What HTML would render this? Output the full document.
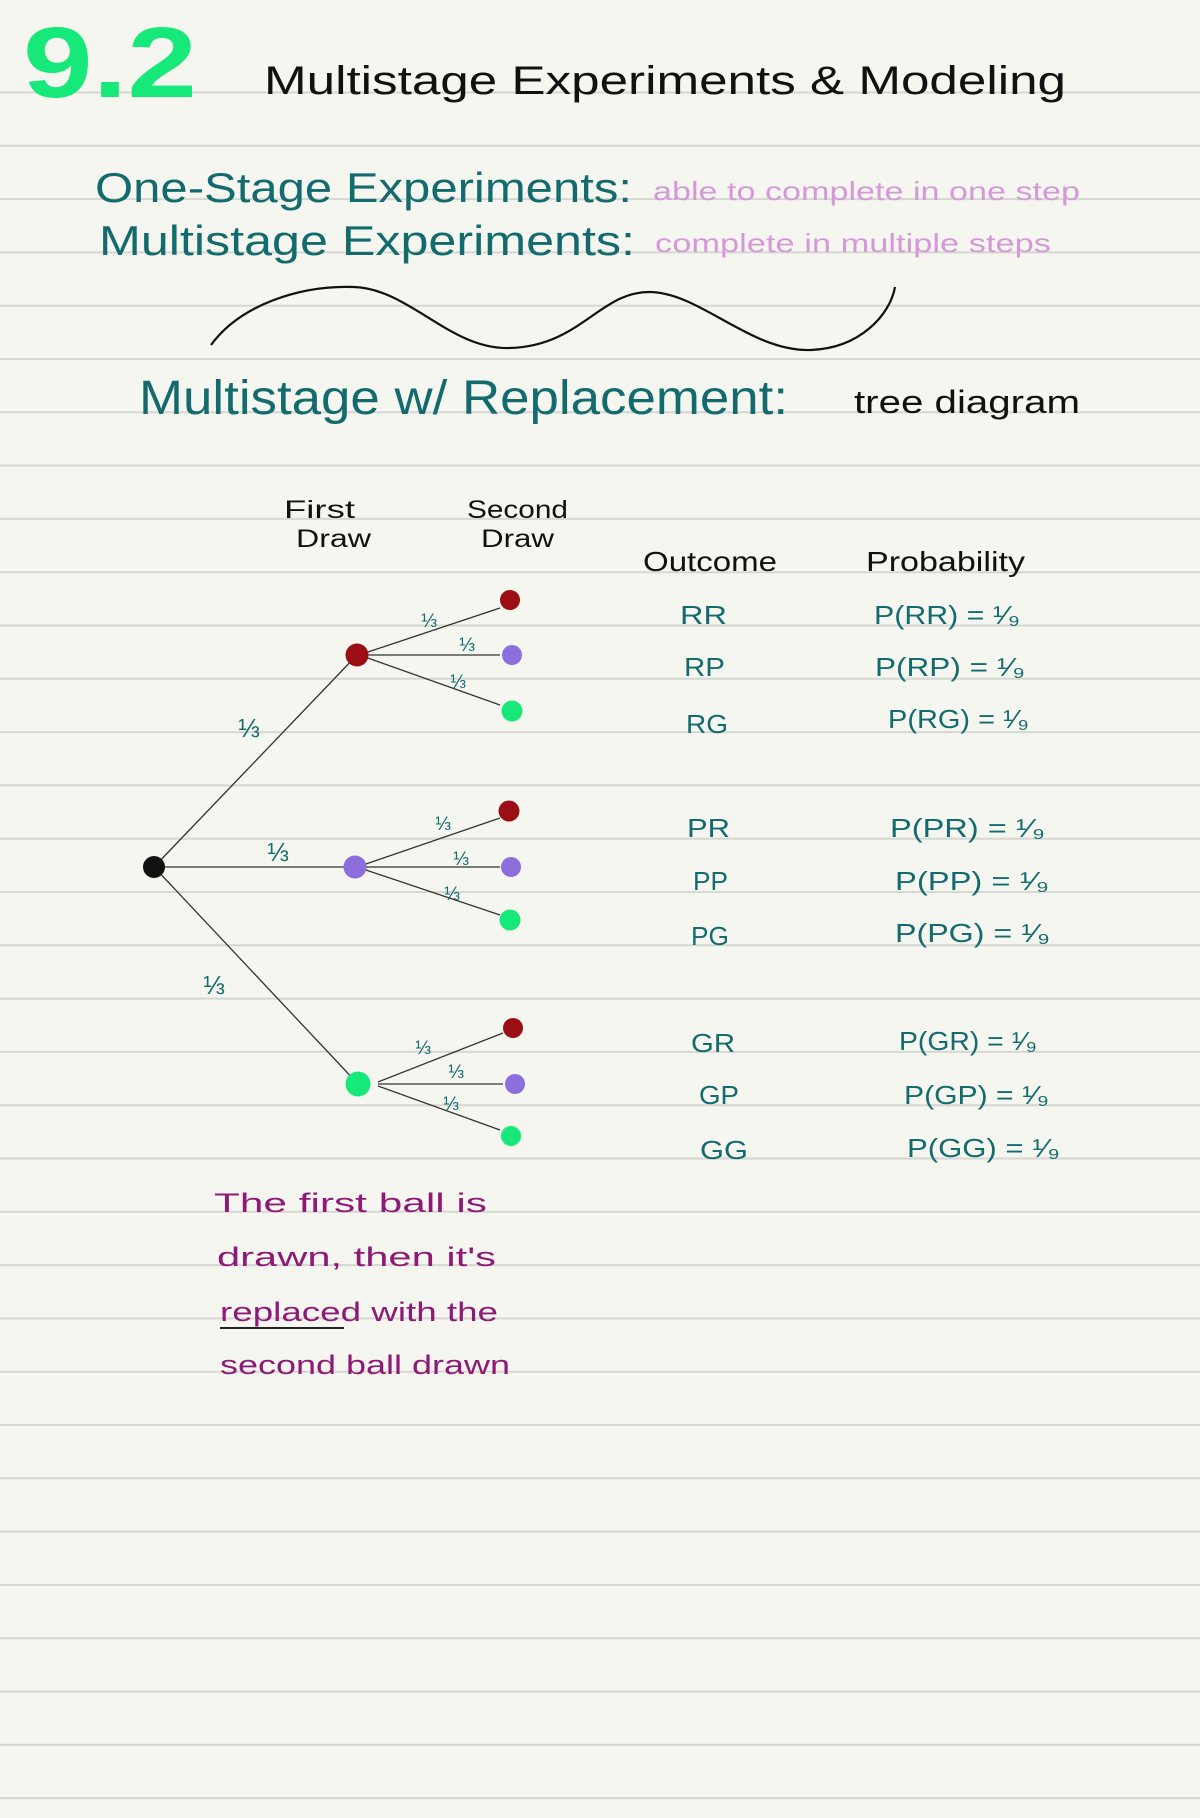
<!DOCTYPE html>
<html><head><meta charset="utf-8"><style>
html,body{margin:0;padding:0;background:#f6f6f0;}
svg{display:block}
text{font-family:"Liberation Sans","DejaVu Sans",sans-serif;}
</style></head><body>
<svg width="1200" height="1818" viewBox="0 0 1200 1818" xmlns="http://www.w3.org/2000/svg">
<rect width="1200" height="1818" fill="#f6f6f0"/>
<g stroke="#d6d6d2" stroke-width="2">
<line x1="0" x2="1200" y1="92.5" y2="92.5"/><line x1="0" x2="1200" y1="145.8" y2="145.8"/><line x1="0" x2="1200" y1="199.1" y2="199.1"/><line x1="0" x2="1200" y1="252.4" y2="252.4"/><line x1="0" x2="1200" y1="305.7" y2="305.7"/><line x1="0" x2="1200" y1="359" y2="359"/><line x1="0" x2="1200" y1="412.3" y2="412.3"/><line x1="0" x2="1200" y1="465.6" y2="465.6"/><line x1="0" x2="1200" y1="518.9" y2="518.9"/><line x1="0" x2="1200" y1="572.2" y2="572.2"/><line x1="0" x2="1200" y1="625.5" y2="625.5"/><line x1="0" x2="1200" y1="678.8" y2="678.8"/><line x1="0" x2="1200" y1="732.1" y2="732.1"/><line x1="0" x2="1200" y1="785.4" y2="785.4"/><line x1="0" x2="1200" y1="838.7" y2="838.7"/><line x1="0" x2="1200" y1="892" y2="892"/><line x1="0" x2="1200" y1="945.3" y2="945.3"/><line x1="0" x2="1200" y1="998.6" y2="998.6"/><line x1="0" x2="1200" y1="1051.9" y2="1051.9"/><line x1="0" x2="1200" y1="1105.2" y2="1105.2"/><line x1="0" x2="1200" y1="1158.5" y2="1158.5"/><line x1="0" x2="1200" y1="1211.8" y2="1211.8"/><line x1="0" x2="1200" y1="1265.1" y2="1265.1"/><line x1="0" x2="1200" y1="1318.4" y2="1318.4"/><line x1="0" x2="1200" y1="1371.7" y2="1371.7"/><line x1="0" x2="1200" y1="1425" y2="1425"/><line x1="0" x2="1200" y1="1478.3" y2="1478.3"/><line x1="0" x2="1200" y1="1531.6" y2="1531.6"/><line x1="0" x2="1200" y1="1584.9" y2="1584.9"/><line x1="0" x2="1200" y1="1638.2" y2="1638.2"/><line x1="0" x2="1200" y1="1691.5" y2="1691.5"/><line x1="0" x2="1200" y1="1744.8" y2="1744.8"/><line x1="0" x2="1200" y1="1798.1" y2="1798.1"/>
</g>
<text x="23" y="97" font-size="100" font-weight="bold" fill="#17e87a" textLength="174" lengthAdjust="spacingAndGlyphs">9.2</text>
<text x="264" y="94" font-size="40" fill="#111" textLength="802" lengthAdjust="spacingAndGlyphs">Multistage Experiments &amp; Modeling</text>
<g fill="#136b6e">
<text x="95" y="202" font-size="42" textLength="537" lengthAdjust="spacingAndGlyphs">One-Stage Experiments:</text>
<text x="99" y="255" font-size="42" textLength="536" lengthAdjust="spacingAndGlyphs">Multistage Experiments:</text>
<text x="139" y="414" font-size="48" textLength="649" lengthAdjust="spacingAndGlyphs">Multistage w/ Replacement:</text>
</g>
<g fill="#d49ad8" font-size="26">
<text x="653" y="200" textLength="427" lengthAdjust="spacingAndGlyphs">able to complete in one step</text>
<text x="655" y="252" textLength="396" lengthAdjust="spacingAndGlyphs">complete in multiple steps</text>
</g>
<text x="854" y="413" font-size="32" fill="#111" textLength="226" lengthAdjust="spacingAndGlyphs">tree diagram</text>
<path d="M211,345 C240,305 300,285 354,287 C410,289 450,350 510,348 C580,346 600,292 649,292 C700,292 750,352 811,350 C860,348 890,315 895,287" fill="none" stroke="#111" stroke-width="2.2"/>
<g fill="#111" font-size="25">
<text x="284" y="518" textLength="71" lengthAdjust="spacingAndGlyphs">First</text>
<text x="296" y="547" textLength="75" lengthAdjust="spacingAndGlyphs">Draw</text>
<text x="467" y="518" textLength="101" lengthAdjust="spacingAndGlyphs">Second</text>
<text x="481" y="547" textLength="73" lengthAdjust="spacingAndGlyphs">Draw</text>
<text x="643" y="571" font-size="28" textLength="134" lengthAdjust="spacingAndGlyphs">Outcome</text>
<text x="866" y="571" font-size="28" textLength="159" lengthAdjust="spacingAndGlyphs">Probability</text>
</g>
<g stroke="#333" stroke-width="1.3">
<line x1="154" y1="867" x2="357" y2="655"/><line x1="154" y1="867" x2="355" y2="867"/><line x1="154" y1="867" x2="358" y2="1084"/>
<line x1="365" y1="653" x2="500" y2="608"/><line x1="365" y1="655" x2="500" y2="655"/><line x1="365" y1="657" x2="500" y2="705"/>
<line x1="363" y1="865" x2="500" y2="818"/><line x1="363" y1="867" x2="500" y2="867"/><line x1="363" y1="869" x2="500" y2="915"/>
<line x1="378" y1="1082" x2="503" y2="1033"/><line x1="378" y1="1084" x2="503" y2="1084"/><line x1="378" y1="1086" x2="500" y2="1130"/>
</g>
<circle cx="154" cy="867" r="11" fill="#111"/>
<circle cx="357" cy="655" r="11.5" fill="#9b0f14"/>
<circle cx="355" cy="867" r="11.5" fill="#8c6fdc"/>
<circle cx="358" cy="1084" r="12.5" fill="#17e87a"/>
<circle cx="510" cy="600" r="10" fill="#9b0f14"/>
<circle cx="512" cy="655" r="10" fill="#8c6fdc"/>
<circle cx="512" cy="711" r="10.5" fill="#17e87a"/>
<circle cx="509" cy="811" r="10.5" fill="#9b0f14"/>
<circle cx="511" cy="867" r="10" fill="#8c6fdc"/>
<circle cx="510" cy="920" r="10.5" fill="#17e87a"/>
<circle cx="513" cy="1028" r="10" fill="#9b0f14"/>
<circle cx="515" cy="1084" r="10" fill="#8c6fdc"/>
<circle cx="511" cy="1136" r="10" fill="#17e87a"/>
<g fill="#136b6e" font-size="26" text-anchor="middle">
<text x="249" y="737">⅓</text><text x="278" y="861">⅓</text><text x="214" y="994">⅓</text>
<g font-size="19"><text x="429" y="627">⅓</text><text x="467" y="651">⅓</text><text x="458" y="688">⅓</text>
<text x="443" y="830">⅓</text><text x="461" y="865">⅓</text><text x="452" y="900">⅓</text>
<text x="423" y="1054">⅓</text><text x="456" y="1078">⅓</text><text x="451" y="1110">⅓</text></g>
</g>
<g fill="#136b6e" font-size="26">
<text x="680" y="624" textLength="47" lengthAdjust="spacingAndGlyphs">RR</text>
<text x="684" y="676" textLength="41" lengthAdjust="spacingAndGlyphs">RP</text>
<text x="686" y="733" textLength="42" lengthAdjust="spacingAndGlyphs">RG</text>
<text x="687" y="837" textLength="43" lengthAdjust="spacingAndGlyphs">PR</text>
<text x="693" y="890" textLength="35" lengthAdjust="spacingAndGlyphs">PP</text>
<text x="691" y="945" textLength="38" lengthAdjust="spacingAndGlyphs">PG</text>
<text x="691" y="1052" textLength="44" lengthAdjust="spacingAndGlyphs">GR</text>
<text x="699" y="1104" textLength="40" lengthAdjust="spacingAndGlyphs">GP</text>
<text x="700" y="1159" textLength="48" lengthAdjust="spacingAndGlyphs">GG</text>
<text x="874" y="624" textLength="146" lengthAdjust="spacingAndGlyphs">P(RR) = ¹⁄₉</text>
<text x="875" y="676" textLength="150" lengthAdjust="spacingAndGlyphs">P(RP) = ¹⁄₉</text>
<text x="888" y="728" textLength="141" lengthAdjust="spacingAndGlyphs">P(RG) = ¹⁄₉</text>
<text x="890" y="837" textLength="155" lengthAdjust="spacingAndGlyphs">P(PR) = ¹⁄₉</text>
<text x="895" y="890" textLength="154" lengthAdjust="spacingAndGlyphs">P(PP) = ¹⁄₉</text>
<text x="895" y="942" textLength="155" lengthAdjust="spacingAndGlyphs">P(PG) = ¹⁄₉</text>
<text x="899" y="1050" textLength="138" lengthAdjust="spacingAndGlyphs">P(GR) = ¹⁄₉</text>
<text x="904" y="1104" textLength="145" lengthAdjust="spacingAndGlyphs">P(GP) = ¹⁄₉</text>
<text x="907" y="1157" textLength="153" lengthAdjust="spacingAndGlyphs">P(GG) = ¹⁄₉</text>
</g>
<g fill="#8e1a78" font-size="27">
<text x="214" y="1212" textLength="273" lengthAdjust="spacingAndGlyphs">The first ball is</text>
<text x="217" y="1266" textLength="279" lengthAdjust="spacingAndGlyphs">drawn, then it's</text>
<text x="220" y="1321" textLength="278" lengthAdjust="spacingAndGlyphs">replaced with the</text>
<text x="220" y="1374" textLength="290" lengthAdjust="spacingAndGlyphs">second ball drawn</text>
</g>
<line x1="220" y1="1328" x2="344" y2="1328" stroke="#222" stroke-width="2"/>
</svg>
</body></html>
